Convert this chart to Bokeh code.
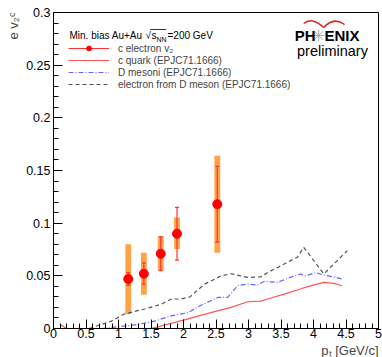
import math
import numpy as np
from bokeh.plotting import figure
from bokeh.models import (SingleIntervalTicker, Range1d, Legend, Title,
                          LegendItem, Label, CustomJSTickFormatter)
from bokeh.embed import file_html
from bokeh.resources import INLINE

# ---- data ----
pt = [1.15, 1.39, 1.65, 1.90, 2.52]
v2 = [0.047, 0.052, 0.071, 0.090, 0.118]
stat = [0.006, 0.010, 0.016, 0.025, 0.036]
sys_lo = [0.0137, 0.032, 0.055, 0.0755, 0.072]
sys_hi = [0.080, 0.072, 0.0875, 0.1055, 0.164]

cq_x = [0.1, 0.2, 1.5, 2.0, 2.42, 2.73, 2.99, 3.19, 3.29, 3.55, 3.8, 3.91, 4.16, 4.31, 4.44]
cq_y = [0.004, 0.0, 0.0, 0.008, 0.015, 0.020, 0.0254, 0.026, 0.028, 0.0327, 0.0375, 0.0397, 0.0438, 0.0428, 0.0406]

dm_x = [0.74, 1.2, 1.5, 1.81, 2.07, 2.27, 2.53, 2.68, 2.83, 2.99, 3.14, 3.24, 3.45, 3.7, 3.8, 3.88, 4.03, 4.16, 4.31, 4.44]
dm_y = [0.0, 0.003, 0.006, 0.012, 0.015, 0.022, 0.0295, 0.0295, 0.0406, 0.0422, 0.0413, 0.0447, 0.0438, 0.050, 0.0517, 0.050, 0.053, 0.0508, 0.049, 0.047]

ed_x = [0.55, 0.89, 1.09, 1.4, 1.66, 1.81, 1.96, 2.1, 2.32, 2.42, 2.58, 2.73, 2.88, 2.99, 3.19, 3.29, 3.45, 3.6, 3.75, 3.85, 4.16, 4.52]
ed_y = [0.0, 0.007, 0.0137, 0.0185, 0.023, 0.028, 0.028, 0.030, 0.042, 0.045, 0.050, 0.052, 0.050, 0.0485, 0.049, 0.053, 0.058, 0.063, 0.0676, 0.077, 0.0518, 0.074]

x_range = (0, 5)
y_range = (0, 0.30001)

FONT = "Liberation Sans"

p = figure(width=382, height=357, x_range=Range1d(*x_range), y_range=Range1d(*y_range),
           output_backend="svg", toolbar_location=None,
           min_border_left=52, min_border_right=4, min_border_top=12, min_border_bottom=29)
p.xgrid.visible = False
p.ygrid.visible = False
p.outline_line_color = "black"
p.outline_line_width = 1
p.background_fill_color = "white"
p.border_fill_color = "white"

fmt = CustomJSTickFormatter(code="return String(Math.round(tick*1000)/1000)")
p.xaxis.ticker = SingleIntervalTicker(interval=0.5, num_minor_ticks=5)
p.yaxis.ticker = SingleIntervalTicker(interval=0.05, num_minor_ticks=5)
for ax in (p.xaxis[0], p.yaxis[0]):
    ax.formatter = fmt
    ax.major_tick_in = 9
    ax.major_tick_out = 0
    ax.minor_tick_in = 5
    ax.minor_tick_out = 0
    ax.axis_line_color = "black"
    ax.major_tick_line_color = "black"
    ax.minor_tick_line_color = "black"
    ax.major_label_text_font = FONT
    ax.major_label_text_font_size = "12.5px"
    ax.major_label_text_color = "black"
p.xaxis.major_label_standoff = 0
p.yaxis.major_label_standoff = 3

# systematic boxes
p.vbar(x=pt, width=0.09, bottom=sys_lo, top=sys_hi, fill_color="#ff9933", fill_alpha=0.9,
       line_color=None)

# theory curves
r_cq = p.line(cq_x, cq_y, line_color="#ff5555", line_width=1.2)
r_dm = p.line(dm_x, dm_y, line_color="#6666ff", line_width=1.2, line_dash="5 2 1 2")
r_ed = p.line(ed_x, ed_y, line_color="#555555", line_width=1.2, line_dash="4 3")

# stat errors
v2a = np.array(v2); sta = np.array(stat); pta = np.array(pt)
r_err = p.segment(x0=pta, y0=v2a - sta, x1=pta, y1=v2a + sta, line_color="#ff3333", line_width=1.2)
cap = 0.03
p.segment(x0=np.concatenate([pta - cap, pta - cap]), x1=np.concatenate([pta + cap, pta + cap]),
          y0=np.concatenate([v2a - sta, v2a + sta]), y1=np.concatenate([v2a - sta, v2a + sta]),
          line_color="#ff3333", line_width=1.2)
r_pts = p.scatter(pt, v2, size=9, marker="circle", fill_color="#ff0000", line_color="#ff0000")

legend = Legend(items=[
    LegendItem(label="c electron v\u2082", renderers=[r_err, r_pts]),
    LegendItem(label="c quark (EPJC71.1666)", renderers=[r_cq]),
    LegendItem(label="D mesoni (EPJC71.1666)", renderers=[r_dm]),
    LegendItem(label="electron from D meson (EPJC71.1666)", renderers=[r_ed]),
], location=(15, 238))
legend.padding = 0
legend.margin = 0
legend.spacing = 0
legend.glyph_height = 12
legend.label_height = 12
legend.glyph_width = 41
legend.label_standoff = 9
legend.label_text_font = FONT
legend.label_text_font_size = "10px"
legend.border_line_alpha = 0
legend.background_fill_alpha = 0
p.add_layout(legend, "center")

def lab(text, sx, sy, size, **kw):
    opts = dict(x=sx, y=sy, x_units="screen", y_units="screen", text=text,
                text_font=FONT, text_font_size=size, text_color="black",
                text_baseline="middle")
    opts.update(kw)
    p.add_layout(Label(**opts), "center")

# legend header: Min. bias Au+Au sqrt(s_NN)=200 GeV
lab("Min. bias Au+Au", 16, 293, "10px")
lab("\u221a", 92, 293, "10px")
lab("s", 98, 293, "10px")
lab("NN", 103, 289, "7px")
lab("=200 GeV", 114, 293, "10px")

# overline of the radical (decoration)
def sx2x(sx):
    return x_range[0] + sx / 326 * (x_range[1] - x_range[0])
def sy2y(sy):
    return y_range[0] + sy / 316 * (y_range[1] - y_range[0])
p.segment(x0=[sx2x(97)], y0=[sy2y(299)], x1=[sx2x(113)], y1=[sy2y(299)], line_color="black", line_width=0.8)

# axis titles
ytitle = Title(text="e v\u2082\u1d9c", align="right", text_font=FONT, text_font_size="13px",
               text_font_style="normal", standoff=6, offset=0)
p.add_layout(ytitle, "left")
xtitle = Title(text="p\u209c [GeV/c]", align="right", text_font=FONT, text_font_size="13px",
               text_font_style="normal", standoff=0, offset=0)
p.add_layout(xtitle, "below")

# PHENIX preliminary logo
lab("PH", 262, 293, "15px", text_font_style="bold", text_align="right")
lab("ENIX", 271, 293, "15px", text_font_style="bold")
p.scatter([sx2x(266)], [sy2y(293)], marker="asterisk", size=12, line_color="#aaaaaa", line_width=1)
lab("preliminary", 279, 278, "14.5px", text_align="center")
p.quadratic(x0=[sx2x(251), sx2x(271)], y0=[sy2y(305), sy2y(301)],
            x1=[sx2x(271), sx2x(292)], y1=[sy2y(301), sy2y(304)],
            cx=[sx2x(259), sx2x(281)], cy=[sy2y(312), sy2y(312)],
            line_color="#dd2222", line_width=1.5)

open("out.html", "w").write(file_html(p, INLINE))
